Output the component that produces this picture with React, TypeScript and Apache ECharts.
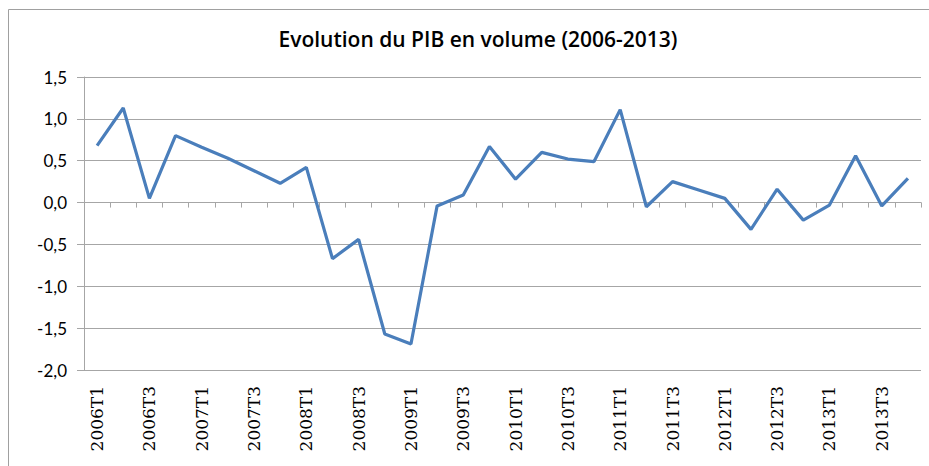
import React, { useEffect, useRef } from "react";
import * as echarts from "echarts";

const titleText = "Evolution du PIB en volume (2006-2013)";

const years = ["2006", "2007", "2008", "2009", "2010", "2011", "2012", "2013"];
const quarters = ["T1", "T2", "T3", "T4"];
const categories: string[] = years.flatMap((y) => quarters.map((q) => y + q));

const pibValues = [
  0.68, 1.13, 0.05, 0.8,
  0.66, 0.53, 0.38, 0.23,
  0.42, -0.67, -0.44, -1.57,
  -1.69, -0.04, 0.09, 0.67,
  0.28, 0.6, 0.52, 0.49,
  1.11, -0.05, 0.25, 0.15,
  0.05, -0.32, 0.16, -0.21,
  -0.03, 0.56, -0.04, 0.29,
];

const yMin = -2;
const yMax = 1.5;
const yStep = 0.5;

export default function App() {
  const ref = useRef<HTMLDivElement>(null);
  useEffect(() => {
    if (!ref.current) return;
    const chart = echarts.init(ref.current, null, { renderer: "svg" });
    const gray = "#a6a6a6";
    chart.setOption({
      animation: false,
      backgroundColor: "#ffffff",
      title: {
        text: titleText,
        left: 478,
        top: 28,
        textAlign: "center",
        padding: 0,
        textStyle: {
          fontFamily: "Open Sans",
          fontWeight: 600,
          fontSize: 21,
          color: "#000000",
        },
      },
      graphic: [
        {
          type: "rect",
          shape: { x: 8.5, y: 9.5, width: 1000, height: 1000 },
          style: { fill: "none", stroke: "#a0a0a0", lineWidth: 1 },
          silent: true,
        },
      ],
      grid: { left: 84, right: 8, top: 77, bottom: 96, containLabel: false },
      xAxis: [
        {
          type: "category",
          data: categories,
          boundaryGap: true,
          position: "bottom",
          axisLine: { show: false, onZero: false },
          axisTick: { show: false },
          axisLabel: {
            interval: 1,
            rotate: 90,
            margin: 16,
            fontFamily: "DejaVu Serif",
            fontSize: 17,
            color: "#000000",
          },
          splitLine: { show: false },
        },
        {
          type: "category",
          data: categories,
          boundaryGap: true,
          position: "bottom",
          axisLine: { show: true, onZero: true, lineStyle: { color: gray, width: 1 } },
          axisTick: { show: true, interval: 0, length: 5, lineStyle: { color: gray } },
          axisLabel: { show: false },
          splitLine: { show: false },
        },
      ],
      yAxis: {
        type: "value",
        min: yMin,
        max: yMax,
        interval: yStep,
        axisLine: { show: true, lineStyle: { color: gray, width: 1 } },
        axisTick: { show: true, length: 7, lineStyle: { color: gray } },
        splitLine: { show: true, lineStyle: { color: gray, width: 1 } },
        axisLabel: {
          margin: 17,
          fontFamily: "Lato",
          fontSize: 17,
          color: "#000000",
          formatter: (v: number) => v.toFixed(1).replace(".", ","),
        },
      },
      series: [
        {
          type: "line",
          xAxisIndex: 0,
          data: pibValues,
          symbol: "none",
          lineStyle: { color: "#4a7ebb", width: 3.2 },
          itemStyle: { color: "#4a7ebb" },
        },
      ],
    });
    return () => chart.dispose();
  }, []);
  return (
    <div
      ref={ref}
      style={{ position: "absolute", left: 0, top: 0, width: 929, height: 466 }}
    />
  );
}
